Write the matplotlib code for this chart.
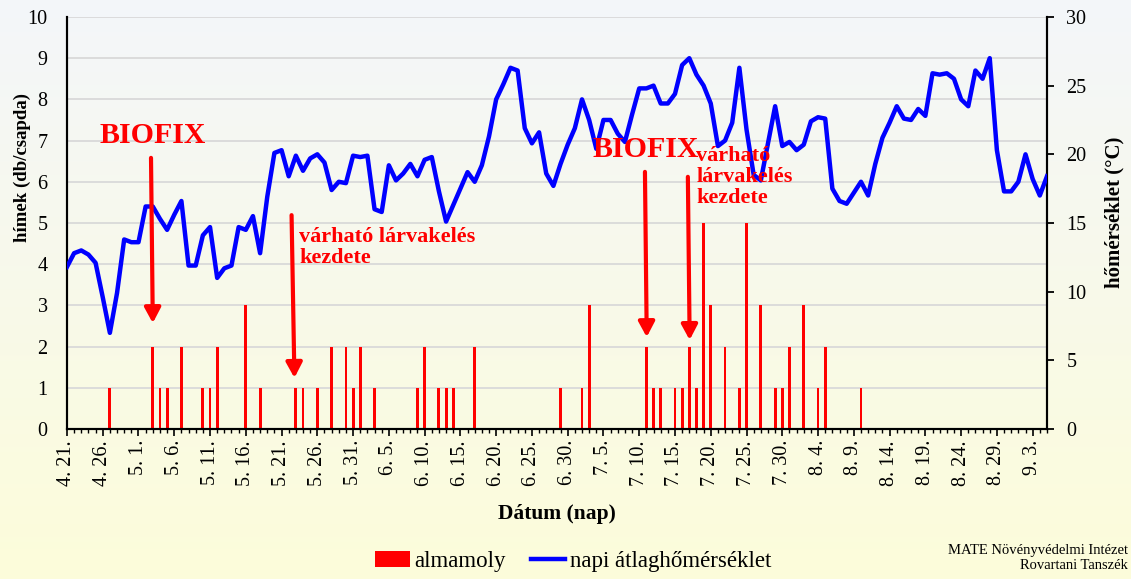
import matplotlib
matplotlib.use("Agg")
import matplotlib.pyplot as plt
import numpy as np
import pandas as pd

plt.rcParams['font.family'] = ['Liberation Serif', 'DejaVu Serif']

# napok: 4.21 - 9.5
napok = pd.date_range("2021-04-21", "2021-09-05", freq="D")

# almamoly fogás (db/csapda) naponta
fogas_apr = [0, 0, 0, 0, 0, 0, 1, 0, 0, 0]
fogas_maj = [0, 0, 2, 1, 1, 0, 2, 0, 0, 1, 1, 2, 0, 0, 0, 3, 0, 1, 0, 0,
             0, 0, 1, 1, 0, 1, 0, 2, 0, 2, 1]
fogas_jun = [2, 0, 1, 0, 0, 0, 0, 0, 1, 2, 0, 1, 1, 1, 0, 0, 2, 0, 0, 0,
             0, 0, 0, 0, 0, 0, 0, 0, 1, 0]
fogas_jul = [0, 1, 3, 0, 0, 0, 0, 0, 0, 0, 2, 1, 1, 0, 1, 1, 2, 1, 5, 3,
             0, 2, 0, 1, 5, 0, 3, 0, 1, 1, 2]
fogas_aug = [0, 3, 0, 1, 2, 0, 0, 0, 0, 1, 0, 0, 0, 0, 0, 0, 0, 0, 0, 0,
             0, 0, 0, 0, 0, 0, 0, 0, 0, 0, 0]
fogas_szep = [0, 0, 0, 0, 0]
almamoly = fogas_apr + fogas_maj + fogas_jun + fogas_jul + fogas_aug + fogas_szep

# napi átlaghőmérséklet (°C)
homerseklet = [
    11.8, 12.8, 13.0, 12.7, 12.1, 9.6, 7.0, 9.9, 13.8, 13.6,
    13.6, 16.2, 16.2, 15.3, 14.5, 15.6, 16.6, 11.9, 11.9, 14.1,
    14.7, 11.0, 11.7, 11.9, 14.7, 14.5, 15.5, 12.8, 16.9, 20.1,
    20.3, 18.4, 19.9, 18.8, 19.7, 20.0, 19.4, 17.4, 18.0, 17.9,
    19.9, 19.8, 19.9, 16.0, 15.8, 19.2, 18.1, 18.6, 19.3, 18.4,
    19.6, 19.8, 17.3, 15.1, 16.3, 17.5, 18.7, 18.0, 19.2, 21.3,
    24.0, 25.1, 26.3, 26.1, 21.9, 20.8, 21.6, 18.6, 17.7, 19.3,
    20.7, 21.9, 24.0, 22.5, 20.4, 22.5, 22.5, 21.5, 20.9, 22.9,
    24.8, 24.8, 25.0, 23.7, 23.7, 24.4, 26.5, 27.0, 25.8, 25.0,
    23.7, 20.6, 21.0, 22.3, 26.3, 21.8, 18.5, 18.1, 20.8, 23.5,
    20.6, 20.9, 20.3, 20.7, 22.4, 22.7, 22.6, 17.5, 16.6, 16.4,
    17.2, 18.0, 17.0, 19.3, 21.2, 22.3, 23.5, 22.6, 22.5, 23.3,
    22.8, 25.9, 25.8, 25.9, 25.5, 24.0, 23.5, 26.1, 25.5, 27.0,
    20.3, 17.3, 17.3, 18.0, 20.0, 18.2, 17.0, 18.4,
]

x = np.arange(len(napok))
tick_pos = x[::5]
tick_labels = [f"{d.month}. {d.day}." for d in napok[::5]]

fig = plt.figure(figsize=(11.31, 5.79), dpi=100)

# háttér színátmenet
bg = fig.add_axes([0, 0, 1, 1], zorder=0)
top = np.array([0.955, 0.965, 0.98])
bottom = np.array([0.99, 0.99, 0.855])
t = np.linspace(0, 1, 256)[:, None]
grad = (top * (1 - t) + bottom * t)[:, None, :]
bg.imshow(grad, aspect='auto', extent=[0, 1, 0, 1])
bg.axis('off')

ax = fig.add_axes([0.0592, 0.2591, 0.8665, 0.7116], zorder=1)
ax.patch.set_alpha(0)
ax2 = ax.twinx()
ax2.set_zorder(2)
ax2.patch.set_alpha(0)

for yv in range(1, 11):
    ax.axhline(yv, color='#d9d9d9', lw=1.3, zorder=0)

bars = ax.bar(x, almamoly, width=0.4, color='#ff0000', zorder=2, label='almamoly')
line, = ax2.plot(x, homerseklet, color='#0000ff', lw=3.2, zorder=3,
                 label='napi átlaghőmérséklet')

ax.set_xlim(0, len(napok) - 1)
ax.set_ylim(0, 10)
ax2.set_ylim(0, 30)

ax.set_yticks(range(0, 11))
ax.tick_params(axis='y', length=0, pad=14, labelsize=14.5)
ax2.set_yticks(range(0, 31, 5))
ax2.tick_params(axis='y', direction='out', length=5, width=1.3, pad=9, labelsize=14.5)

ax.set_xticks(tick_pos)
ax.set_xticklabels(tick_labels, rotation=90, fontsize=14.5)
ax.set_xticks(x, minor=True)
ax.tick_params(axis='x', which='major', direction='out', length=5, width=1.2, pad=3)
ax.tick_params(axis='x', which='minor', direction='out', length=3, width=1.0)

for a in (ax, ax2):
    a.spines['top'].set_visible(False)
    for s in ('left', 'right', 'bottom'):
        a.spines[s].set_linewidth(1.5)

# tengelyfeliratok
fig.text(0.0195, 0.710, 'hímek (db/csapda)', rotation=90, ha='center', va='center',
         fontsize=13.5, fontweight='bold')
fig.text(0.985, 0.634, 'hőmérséklet (°C)', rotation=90, ha='center', va='center',
         fontsize=15, fontweight='bold')
fig.text(0.4925, 0.112, 'Dátum (nap)', ha='center', va='center',
         fontsize=15.5, fontweight='bold')

# nyilak és feliratok
red = '#ff0000'
arrow = dict(arrowstyle='-|>,head_length=0.6,head_width=0.32', color=red, lw=3,
             mutation_scale=15, shrinkA=0, shrinkB=0)
ax2.annotate('', xy=(12.0, 2.57), xytext=(11.75, 6.58),
             xycoords=ax.transData, textcoords=ax.transData, arrowprops=arrow)
ax2.annotate('', xy=(31.8, 1.24), xytext=(31.4, 5.19),
             xycoords=ax.transData, textcoords=ax.transData, arrowprops=arrow)
ax2.annotate('', xy=(81.05, 2.23), xytext=(80.8, 6.24),
             xycoords=ax.transData, textcoords=ax.transData, arrowprops=arrow)
ax2.annotate('', xy=(87.05, 2.16), xytext=(86.8, 6.12),
             xycoords=ax.transData, textcoords=ax.transData, arrowprops=arrow)

ax2.text(4.57, 6.94, 'BIOFIX', transform=ax.transData, color=red, fontsize=21.5,
         fontweight='bold', ha='left', va='baseline', zorder=5)
ax2.text(73.5, 6.60, 'BIOFIX', transform=ax.transData, color=red, fontsize=21.5,
         fontweight='bold', ha='left', va='baseline', zorder=5)
ax2.text(32.5, 4.90, 'várható lárvakelés\nkezdete', transform=ax.transData, color=red,
         fontsize=16, fontweight='bold', ha='left', va='top', linespacing=1.05, zorder=5)
ax2.text(88.0, 6.86, 'várható\nlárvakelés\nkezdete', transform=ax.transData, color=red,
         fontsize=16, fontweight='bold', ha='left', va='top', linespacing=1.05, zorder=5)

fig.legend(handles=[bars, line], loc='center', bbox_to_anchor=(0.507, 0.030), ncol=2,
           frameon=False, fontsize=16.5, handlelength=1.5, handletextpad=0.2,
           columnspacing=1.1)

fig.text(0.997, 0.036, 'MATE Növényvédelmi Intézet\nRovartani Tanszék', ha='right',
         va='center', fontsize=10.5, multialignment='right', linespacing=1.25)

fig.savefig('out.png', dpi=100)
